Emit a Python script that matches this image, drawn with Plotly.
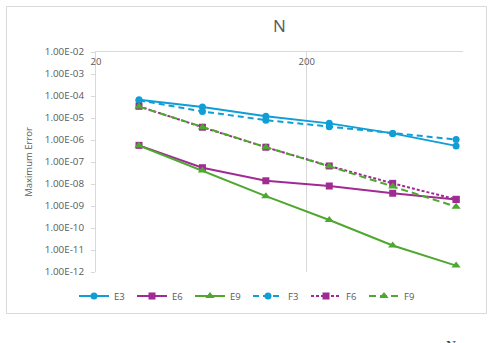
import plotly.graph_objects as go

N = [32, 64, 128, 256, 512, 1024]
E3 = [6.7e-5, 3.2e-5, 1.2e-5, 5.7e-6, 2.0e-6, 5.4e-7]
E6 = [5.7e-7, 5.5e-8, 1.4e-8, 8.1e-9, 3.8e-9, 2.0e-9]
E9 = [5.6e-7, 4.1e-8, 2.8e-9, 2.3e-10, 1.6e-11, 1.95e-12]
F3 = [6.3e-5, 2.0e-5, 8.0e-6, 4.0e-6, 2.0e-6, 1.05e-6]
F6 = [3.4e-5, 3.8e-6, 4.7e-7, 6.6e-8, 1.07e-8, 2.0e-9]
F9 = [3.3e-5, 3.8e-6, 4.7e-7, 6.4e-8, 7.6e-9, 9.3e-10]

y_tickvals = [1e-2, 1e-3, 1e-4, 1e-5, 1e-6, 1e-7, 1e-8, 1e-9, 1e-10, 1e-11, 1e-12]
y_ticktext = ["1.00E-02", "1.00E-03", "1.00E-04", "1.00E-05", "1.00E-06", "1.00E-07",
              "1.00E-08", "1.00E-09", "1.00E-10", "1.00E-11", "1.00E-12"]
x_tickvals = [20, 200]
x_ticktext = ["20", "200"]

BLUE = "#0F9ED5"
PURPLE = "#A02B93"
GREEN = "#4EA72E"
GRAY = "#595959"
LIGHT = "#D9D9D9"
FONT = "Open Sans"

series = [
    ("E3", E3, BLUE, "solid", "circle", 7),
    ("E6", E6, PURPLE, "solid", "square", 7),
    ("E9", E9, GREEN, "solid", "triangle-up", 8),
    ("F3", F3, BLUE, "6px,4px", "circle", 7),
    ("F6", F6, PURPLE, "3px,2px", "square", 7),
    ("F9", F9, GREEN, "7px,4px", "triangle-up", 8),
]

fig = go.Figure()
for name, vals, col, dash, sym, ms in series:
    fig.add_trace(go.Scatter(
        x=N, y=vals, name=name, mode="lines+markers",
        line=dict(color=col, width=2, dash=dash),
        marker=dict(symbol=sym, size=ms, color=col),
    ))

L, R, T, B = 96, 463, 52, 272
W, H = 494, 343
pw, ph = R - L, B - T

def px(x):
    return (x - L) / pw

def py(y):
    return (B - y) / ph

fig.update_layout(
    width=W, height=H,
    margin=dict(l=L, r=W - R, t=T, b=H - B),
    paper_bgcolor="white", plot_bgcolor="white",
    font=dict(family=FONT, size=9.5, color=GRAY),
    title=dict(text="N", x=0.5, xref="paper", xanchor="center",
               y=1 - 26 / H, yanchor="middle",
               font=dict(family=FONT, size=17, color=GRAY)),
    showlegend=True,
    legend=dict(orientation="h", x=px(74), xanchor="left", y=py(296), yanchor="middle",
                font=dict(family=FONT, size=9.5, color=GRAY),
                entrywidth=13, entrywidthmode="pixels", bgcolor="rgba(0,0,0,0)"),
    xaxis=dict(type="log", side="top", range=[1.30103, 3.043],
               tickvals=x_tickvals, ticktext=x_ticktext,
               showgrid=True, gridcolor=LIGHT, gridwidth=1,
               showline=True, linecolor=LIGHT, linewidth=1,
               ticks="", ticklabelposition="inside", ticklabeloverflow="allow",
               ticklabelstandoff=5,
               tickfont=dict(family=FONT, size=9.5, color=GRAY), zeroline=False),
    yaxis=dict(type="log", range=[-12, -2],
               tickvals=y_tickvals, ticktext=y_ticktext,
               showgrid=False, showline=True, linecolor=LIGHT, linewidth=1,
               ticks="outside", ticklen=4, tickcolor=LIGHT, ticklabelstandoff=5,
               tickfont=dict(family=FONT, size=9.8, color=GRAY),
               title=dict(text="Maximum Error", font=dict(family=FONT, size=9.5, color=GRAY),
                          standoff=10)),
    shapes=[dict(type="rect", xref="paper", yref="paper",
                 x0=px(6.5), x1=px(486.5), y0=py(313.5), y1=py(6.5),
                 line=dict(color=LIGHT, width=1), fillcolor="rgba(0,0,0,0)", layer="below")],
    annotations=[dict(text="N", xref="paper", yref="paper", x=px(451), y=py(337),
                      xanchor="center", yanchor="top", showarrow=False,
                      font=dict(family="Liberation Serif", size=14, color="#333333"))],
)

fig.write_html("out.html")
